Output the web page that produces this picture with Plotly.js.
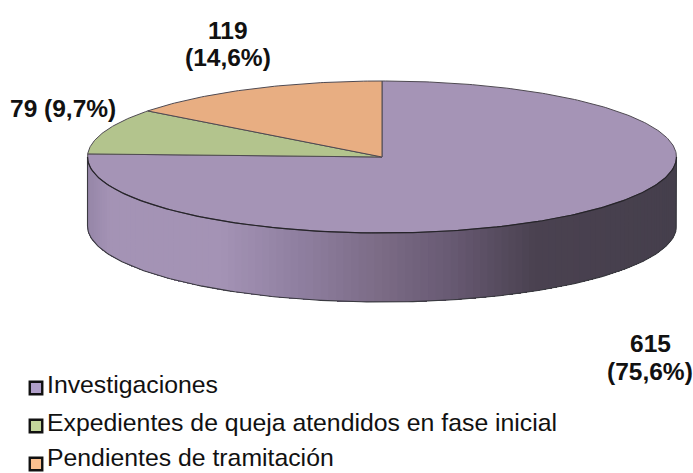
<!DOCTYPE html>
<html><head><meta charset="utf-8">
<script src="https://cdn.plot.ly/plotly-3.0.1.min.js"></script>
<style>html,body{margin:0;padding:0;background:#fff;overflow:hidden}#c{width:693px;height:473px}</style>
</head><body><div id="c"></div>
<script>
const categories = ["Investigaciones", "Expedientes de queja atendidos en fase inicial", "Pendientes de tramitación"];
const values = [615, 79, 119];
const percents = ["75,6", "9,7", "14,6"];
const topColors = ["#a594b6", "#b3c48d", "#e8ae82"];
const swatchColors = ["#b09fc9", "#c3d69b", "#fac090"];

// disc geometry in canvas units
const cx = 382, cy = 157, rx = 294.5, ry = 76, depth = 69;
// side shading: [x, colour]
const shade = [[88,[150,134,168]],[110,[164,147,181]],[220,[164,147,181]],[300,[143,127,160]],[385,[122,106,132]],
               [450,[104,90,115]],[535,[74,65,80]],[677,[69,63,76]]];
function shadeAt(x){
  for(let i=1;i<shade.length;i++){
    if(x<=shade[i][0]){
      const a=shade[i-1],b=shade[i],t=Math.max(0,(x-a[0])/(b[0]-a[0]));
      return 'rgb('+a[1].map((v,k)=>Math.round(v+(b[1][k]-v)*t)).join(',')+')';
    }
  }
  return 'rgb(69,63,76)';
}
const px = a => cx + rx*Math.sin(a), py = (a,d=0) => cy - ry*Math.cos(a) + d;
const traces = [];

// side wall: painted right to left, each band covers everything left of its start, so no seams show
const N = 120;
for(let i=0;i<N;i++){
  const c = shadeAt((px(Math.PI/2+Math.PI*i/N)+px(Math.PI/2+Math.PI*(i+1)/N))/2);
  const topX=[],topY=[],botX=[],botY=[];
  for(let j=i;j<=N;j+=1){
    const a=Math.PI/2+Math.PI*j/N;
    topX.push(px(a));topY.push(py(a));botX.unshift(px(a));botY.unshift(py(a,depth));
  }
  traces.push({type:'scatter',mode:'lines',fill:'toself',fillcolor:c,line:{width:0},hoverinfo:'skip',showlegend:false,
    x:topX.concat(botX,[topX[0]]), y:topY.concat(botY,[topY[0]])});
}
// side outline
{
  const xs=[],ys=[];
  xs.push(px(Math.PI/2)); ys.push(py(Math.PI/2));
  for(let i=0;i<=180;i++){const a=Math.PI/2+Math.PI*i/180; xs.push(px(a)); ys.push(py(a,depth));}
  xs.push(px(3*Math.PI/2)); ys.push(py(3*Math.PI/2));
  traces.push({type:'scatter',mode:'lines',x:xs,y:ys,line:{color:'#3a3a40',width:1.1},hoverinfo:'skip',showlegend:false});
}
// top face slices, drawn clockwise from 12 o'clock
const total = values.reduce((s,v)=>s+v,0);
let acc = 0;
values.forEach((v,k)=>{
  const a0 = 2*Math.PI*acc/total, a1 = 2*Math.PI*(acc+v)/total; acc += v;
  const xs=[cx],ys=[cy], n=Math.max(12,Math.round((a1-a0)*80));
  for(let i=0;i<=n;i++){const a=a0+(a1-a0)*i/n; xs.push(px(a)); ys.push(py(a));}
  xs.push(cx); ys.push(cy);
  traces.push({type:'scatter',mode:'lines',fill:'toself',fillcolor:topColors[k],x:xs,y:ys,
    line:{color:'#4f4a52',width:1},hoverinfo:'skip',showlegend:false});
});
// darker rim along the front of the top face
{
  const xs=[],ys=[];
  for(let i=0;i<=180;i++){const a=Math.PI/2+Math.PI*i/180; xs.push(px(a)); ys.push(py(a));}
  traces.push({type:'scatter',mode:'lines',x:xs,y:ys,line:{color:'#26242a',width:1.2},hoverinfo:'skip',showlegend:false});
}
// legend
const legendX = 36, legendY = [388, 426, 464], legendTextY = [387, 424.5, 459.5];
traces.push({type:'scatter',mode:'markers',x:legendY.map(()=>legendX),y:legendY,hoverinfo:'skip',showlegend:false,
  marker:{symbol:'square',size:12.5,color:swatchColors,line:{color:'#111',width:2.4}}});
traces.push({type:'scatter',mode:'text',x:legendY.map(()=>legendX+11),y:legendTextY,text:categories,textposition:'middle right',
  textfont:{family:'Liberation Sans',size:24.8,color:'#111'},hoverinfo:'skip',showlegend:false});

const labelLines = [
  {x:650,y:343,t:String(values[0])},
  {x:650,y:371,t:'('+percents[0]+'%)'},
  {x:63,y:108,t:values[1]+' ('+percents[1]+'%)'},
  {x:228,y:30,t:String(values[2])},
  {x:228,y:57,t:'('+percents[2]+'%)'}
];
const annotations = labelLines.map(l=>({xref:'x',yref:'y',x:l.x,y:l.y,text:l.t,showarrow:false,
  align:'center',xanchor:'center',yanchor:'middle',font:{family:'Liberation Sans',size:24.5,color:'#111',weight:700}}));

Plotly.newPlot('c',traces,{
  width:693,height:473,margin:{l:0,r:0,t:0,b:0},paper_bgcolor:'#fff',plot_bgcolor:'#fff',showlegend:false,
  xaxis:{range:[0,693],visible:false,fixedrange:true},
  yaxis:{range:[473,0],visible:false,fixedrange:true},
  annotations
},{displayModeBar:false,staticPlot:true});
</script></body></html>
